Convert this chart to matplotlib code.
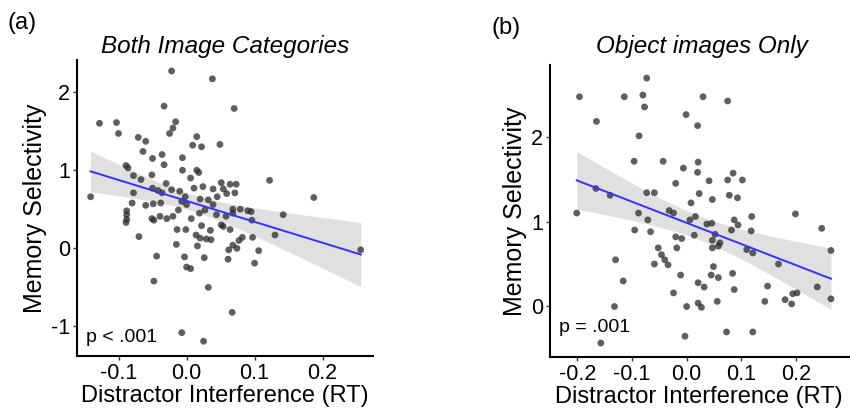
import numpy as np
import matplotlib
matplotlib.use("Agg")
import matplotlib.pyplot as plt

plt.rcParams['font.family'] = ['Liberation Sans', 'DejaVu Sans']
plt.rcParams['axes.unicode_minus'] = False

# panel (a): both image categories
a_x = [-0.022, 0.038, -0.033, 0.070, -0.128, -0.103, -0.100, -0.016, -0.020, -0.025,
       -0.071, -0.060, 0.015, 0.009, 0.022, 0.049, -0.064, -0.036, -0.050, -0.006,
       -0.033, -0.089, -0.086, -0.078, -0.006, 0.015, 0.018, 0.006, -0.051, -0.067,
       -0.030, -0.050, 0.122, 0.051, 0.064, 0.073, 0.039, 0.024, 0.054, 0.011,
       -0.010, -0.022, -0.036, -0.078, -0.141, 0.187, -0.002, 0.020, 0.045, 0.059,
       0.071, 0.032, -0.007, 0.000, -0.060, -0.049, -0.038, 0.039, 0.027, 0.068,
       0.079, 0.090, -0.088, -0.088, -0.088, -0.089, -0.039, -0.029, -0.020, -0.012,
       -0.051, -0.048, 0.007, 0.019, 0.044, 0.058, 0.068, 0.095, 0.096, 0.142,
       0.051, 0.054, 0.064, 0.082, 0.097, 0.130, -0.070, -0.014, -0.001, 0.022,
       0.035, 0.014, 0.020, 0.029, 0.036, -0.015, 0.016, 0.068, 0.077, 0.074,
       0.062, 0.106, 0.256, -0.044, -0.003, 0.026, 0.061, 0.100, 0.000, 0.006,
       0.032, -0.048, 0.067, -0.007, 0.025, -0.080, -0.042]
a_y = [2.27, 2.17, 1.82, 1.79, 1.60, 1.61, 1.47, 1.62, 1.54, 1.47,
       1.42, 1.37, 1.43, 1.32, 1.30, 1.33, 1.24, 1.20, 1.15, 1.16,
       1.07, 1.06, 1.03, 0.93, 1.00, 1.00, 0.97, 0.90, 0.94, 0.88,
       0.83, 0.77, 0.87, 0.84, 0.82, 0.82, 0.76, 0.79, 0.76, 0.77,
       0.73, 0.75, 0.71, 0.71, 0.66, 0.65, 0.66, 0.63, 0.66, 0.70,
       0.71, 0.62, 0.60, 0.56, 0.55, 0.57, 0.58, 0.56, 0.49, 0.50,
       0.50, 0.48, 0.48, 0.43, 0.37, 0.33, 0.41, 0.38, 0.41, 0.49,
       0.38, 0.36, 0.38, 0.45, 0.43, 0.41, 0.45, 0.47, 0.36, 0.43,
       0.30, 0.28, 0.24, 0.14, 0.14, 0.17, 0.15, 0.24, 0.24, 0.29,
       0.23, 0.17, 0.13, 0.12, 0.11, 0.05, 0.03, 0.04, 0.10, 0.00,
       -0.02, -0.03, -0.02, -0.10, -0.11, -0.12, -0.14, -0.19, -0.24, -0.26,
       -0.50, -0.42, -0.82, -1.08, -1.19, 0.58, 0.74]

# panel (b): object images only
b_x = [-0.196, -0.114, -0.073, -0.080, -0.077, 0.030, 0.075, -0.165, -0.001, 0.020,
       -0.087, -0.096, -0.043, 0.021, -0.006, 0.020, 0.085, 0.075, 0.102, 0.041,
       -0.020, -0.201, -0.166, -0.140, -0.073, -0.059, 0.023, 0.078, 0.093, 0.047,
       0.008, -0.032, -0.024, -0.088, -0.071, 0.016, 0.006, 0.119, 0.199, 0.087,
       0.094, 0.037, 0.046, -0.095, -0.066, 0.082, 0.118, 0.247, 0.052, -0.020,
       -0.009, 0.014, 0.047, 0.061, -0.018, -0.052, 0.047, 0.058, 0.110, 0.121,
       -0.046, -0.040, 0.264, -0.059, -0.034, -0.130, 0.168, 0.049, 0.045, 0.058,
       -0.011, 0.084, -0.116, 0.021, 0.032, 0.087, 0.148, 0.239, -0.024, 0.194,
       0.202, 0.180, 0.192, 0.143, 0.056, 0.021, 0.027, 0.000, -0.132, 0.264,
       -0.003, 0.073, 0.121, -0.157]
b_y = [2.47, 2.47, 2.69, 2.49, 2.35, 2.47, 2.42, 2.18, 2.26, 2.13,
       2.01, 1.71, 1.71, 1.70, 1.63, 1.58, 1.57, 1.49, 1.49, 1.48,
       1.45, 1.10, 1.39, 1.31, 1.34, 1.34, 1.33, 1.31, 1.28, 1.26,
       1.22, 1.13, 1.10, 1.10, 1.02, 1.06, 1.02, 1.06, 1.09, 1.02,
       0.96, 0.97, 0.98, 0.90, 0.88, 0.90, 0.89, 0.92, 0.85, 0.82,
       0.80, 0.84, 0.78, 0.75, 0.69, 0.69, 0.69, 0.71, 0.67, 0.63,
       0.61, 0.55, 0.66, 0.50, 0.49, 0.55, 0.50, 0.47, 0.37, 0.34,
       0.37, 0.39, 0.30, 0.28, 0.23, 0.20, 0.24, 0.23, 0.16, 0.15,
       0.16, 0.08, 0.03, 0.06, 0.06, 0.04, -0.01, 0.00, 0.00, 0.09,
       -0.35, -0.30, -0.30, -0.43]

a_xticks = [-0.1, 0.0, 0.1, 0.2]
a_yticks = [-1, 0, 1, 2]
b_xticks = [-0.2, -0.1, 0.0, 0.1, 0.2]
b_yticks = [0, 1, 2]


def lm_band(x, y, n_pts=80):
    # linear fit with 95% confidence band, like geom_smooth(method = "lm")
    x = np.asarray(x)
    y = np.asarray(y)
    n = len(x)
    slope, icpt = np.polyfit(x, y, 1)
    resid = y - (slope * x + icpt)
    s = np.sqrt(np.sum(resid ** 2) / (n - 2))
    xs = np.linspace(x.min(), x.max(), n_pts)
    fit = slope * xs + icpt
    se = s * np.sqrt(1.0 / n + (xs - x.mean()) ** 2 / np.sum((x - x.mean()) ** 2))
    return xs, fit, 1.98 * se


def panel(ax, x, y, title, tpad, ptxt, ppos, xt, yt):
    xs, fit, ci = lm_band(x, y)
    ax.fill_between(xs, fit - ci, fit + ci, color='#999999', alpha=0.3, lw=0, zorder=1)
    ax.scatter(x, y, s=24, color='#2a2a2a', alpha=0.75, edgecolors='none', zorder=2)
    ax.plot(xs, fit, color='#3333ff', lw=1.4, zorder=3)
    ax.set_title(title, fontsize=17.5, style='italic', pad=tpad)
    ax.set_xlabel('Distractor Interference (RT)', fontsize=17, labelpad=1)
    ax.set_ylabel('Memory Selectivity', fontsize=18, labelpad=3)
    ax.set_xticks(xt)
    ax.set_xticklabels(['%.1f' % v for v in xt])
    ax.set_yticks(yt)
    ax.set_yticklabels(['%d' % v for v in yt])
    ax.tick_params(labelsize=15.5, length=3, width=1, color='#333333', pad=2)
    for side in ['top', 'right']:
        ax.spines[side].set_visible(False)
    for side in ['left', 'bottom']:
        ax.spines[side].set_linewidth(1.5)
    ax.text(ppos[0], ppos[1], ptxt, fontsize=14, va='center', ha='left')


fig = plt.figure(figsize=(8.5, 4.12), dpi=100)
ax1 = fig.add_axes([0.0906, 0.1359, 0.3482, 0.7185])
ax2 = fig.add_axes([0.647, 0.1335, 0.357, 0.7085])

panel(ax1, a_x, a_y, 'Both Image Categories', 5, 'p < .001', (-0.148, -1.14), a_xticks, a_yticks)
ax1.set_xlim(-0.161, 0.274)
ax1.set_ylim(-1.379, 2.411)

panel(ax2, b_x, b_y, 'Object images Only', 9, 'p = .001', (-0.233, -0.25), b_xticks, b_yticks)
ax2.set_xlim(-0.25, 0.305)
ax2.set_ylim(-0.595, 2.843)
# keep the label inside the figure: centre it a little left of the axes middle
ax2.xaxis.set_label_coords(0.49, -0.1)
ax2.xaxis.label.set_va('top')

fig.text(0.009, 0.944, '(a)', fontsize=17, va='center', ha='left')
fig.text(0.578, 0.932, '(b)', fontsize=17, va='center', ha='left')

fig.savefig('out.png', dpi=100)
